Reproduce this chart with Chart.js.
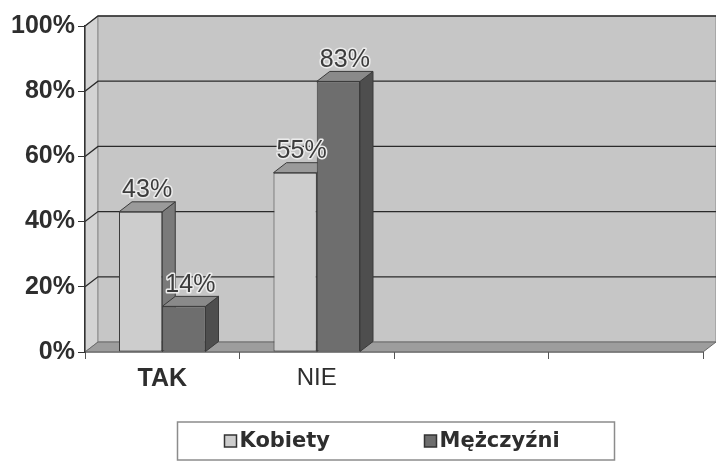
<!DOCTYPE html>
<html>
<head>
<meta charset="utf-8">
<script src="https://cdn.jsdelivr.net/npm/chart.js@4.4.1/dist/chart.umd.min.js"></script>
<style>
  html,body{margin:0;padding:0;background:#fff;}
  #wrap{width:716px;height:465px;}
</style>
</head>
<body>
<div id="wrap"><canvas id="c" width="716" height="465"></canvas></div>
<script>
/* ---- data ---- */
const categories = ['TAK', 'NIE', '', ''];
const kobiety    = [43, 55, null, null];
const mezczyzni  = [14, 83, null, null];
const yTicks     = [0, 20, 40, 60, 80, 100];
const seriesNames = ['Kobiety', 'Mężczyźni'];

const DX = 13, DY = 10;            // fake 3D depth
const FONT = '"Liberation Sans", Arial, sans-serif';
const COL = {
  wall:'#c6c6c6', side:'#d3d3d3', floor:'#9d9d9d', grid:'#2a2a2a',
  kFront:'#cdcdcd', kTop:'#9a9a9a', kSide:'#7a7a7a',
  mFront:'#6e6e6e', mTop:'#8a8a8a', mSide:'#4e4e4e', edge:'#3a3a3a'
};

function poly(ctx, pts, fill, stroke){
  ctx.beginPath(); ctx.moveTo(pts[0][0], pts[0][1]);
  for (let i=1;i<pts.length;i++) ctx.lineTo(pts[i][0], pts[i][1]);
  ctx.closePath();
  if (fill){ ctx.fillStyle = fill; ctx.fill(); }
  if (stroke){ ctx.strokeStyle = stroke; ctx.lineWidth = 1; ctx.stroke(); }
}

// walls, floor and back-wall gridlines
const walls = {
  id:'walls',
  beforeDraw(chart){
    const {ctx, chartArea:{left,right,top,bottom}} = chart, ys = chart.scales.y;
    ctx.save();
    poly(ctx, [[left,top],[left+DX,top-DY],[left+DX,bottom-DY],[left,bottom]], COL.side, '#8a8a8a');
    poly(ctx, [[left+DX,top-DY],[right+DX,top-DY],[right+DX,bottom-DY],[left+DX,bottom-DY]], COL.wall, '#8a8a8a');
    poly(ctx, [[left,bottom],[left+DX,bottom-DY],[right+DX,bottom-DY],[right,bottom]], COL.floor, '#6a6a6a');
    ctx.strokeStyle = COL.grid; ctx.lineWidth = 1.3;
    yTicks.forEach(v => {
      if (v === 0) return;
      const y = ys.getPixelForValue(v);
      ctx.beginPath(); ctx.moveTo(left, y); ctx.lineTo(left+DX, y-DY); ctx.lineTo(right+DX, y-DY); ctx.stroke();
    });
    ctx.strokeStyle = '#777'; ctx.lineWidth = 1.5;
    ctx.beginPath(); ctx.moveTo(left, bottom); ctx.lineTo(right, bottom); ctx.stroke();
    ctx.restore();
  },
  beforeDatasetsDraw(chart){
    const ctx = chart.ctx;
    ctx.save();
    chart.data.datasets.forEach((ds, di) => {
      const top = di ? COL.mTop : COL.kTop, side = di ? COL.mSide : COL.kSide;
      chart.getDatasetMeta(di).data.forEach((bar, i) => {
        if (ds.data[i] == null) return;
        const {x, y, base, width} = bar.getProps(['x','y','base','width']);
        const l = x - width/2, r = x + width/2;
        poly(ctx, [[r,y],[r+DX,y-DY],[r+DX,base-DY],[r,base]], side, COL.edge);
        poly(ctx, [[l,y],[l+DX,y-DY],[r+DX,y-DY],[r,y]], top, COL.edge);
      });
    });
    ctx.restore();
  },
  afterDatasetsDraw(chart){
    const ctx = chart.ctx;
    ctx.save();
    ctx.font = '25px ' + FONT; ctx.textAlign = 'center'; ctx.textBaseline = 'bottom';
    ctx.lineJoin = 'round';
    chart.data.datasets.forEach((ds, di) => {
      chart.getDatasetMeta(di).data.forEach((bar, i) => {
        const v = ds.data[i]; if (v == null) return;
        const tx = bar.x + DX/2, ty = bar.y - DY + 1;
        ctx.strokeStyle = '#ececec'; ctx.lineWidth = 3; ctx.strokeText(v + '%', tx, ty);
        ctx.fillStyle = '#3c3c3c'; ctx.fillText(v + '%', tx, ty);
      });
    });
    ctx.restore();
  }
};

// boxed legend under the axis
const boxLegend = {
  id:'boxLegend',
  afterDraw(chart){
    const {ctx, chartArea:{left,right,bottom}} = chart;
    const w = 437, h = 38, bx = (left+right)/2 - w/2 + 2, by = bottom + 70;
    ctx.save();
    ctx.fillStyle = '#fff'; ctx.fillRect(bx, by, w, h);
    ctx.strokeStyle = '#8c8c8c'; ctx.lineWidth = 1.5; ctx.strokeRect(bx, by, w, h);
    ctx.font = 'bold 21px "DejaVu Sans", sans-serif'; ctx.textBaseline = 'middle'; ctx.textAlign = 'left';
    const offs = [47, 247];
    chart.data.datasets.forEach((ds, di) => {
      const sx = bx + offs[di], sy = by + h/2 - 6;
      ctx.fillStyle = ds.backgroundColor; ctx.fillRect(sx, sy, 12, 12);
      ctx.strokeStyle = '#333'; ctx.lineWidth = 1.5; ctx.strokeRect(sx, sy, 12, 12);
      ctx.fillStyle = '#2e2e2e'; ctx.fillText(ds.label, sx + 15, by + h/2 + 1);
    });
    ctx.restore();
  }
};

new Chart(document.getElementById('c'), {
  type:'bar',
  data:{
    labels:categories,
    datasets:[
      {label:seriesNames[0], data:kobiety,   backgroundColor:COL.kFront, borderColor:COL.edge, borderWidth:1, borderSkipped:false},
      {label:seriesNames[1], data:mezczyzni, backgroundColor:COL.mFront, borderColor:COL.edge, borderWidth:1, borderSkipped:false}
    ]
  },
  options:{
    responsive:false, animation:false, devicePixelRatio:1,
    layout:{padding:{top:26, right:13, left:0, bottom:73}},
    categoryPercentage:0.56, barPercentage:1,
    plugins:{legend:{display:false}, tooltip:{enabled:false}},
    scales:{
      x:{
        afterFit:s => { s.height = 40; },
        grid:{display:true, drawOnChartArea:false, drawTicks:true, tickLength:7, offset:true, color:'#555'},
        border:{display:false},
        ticks:{padding:5, color:'#2e2e2e',
          font:c => ({family:FONT, size:c.index === 0 ? 25 : 24, weight:c.index === 0 ? 'bold' : 'normal'})}
      },
      y:{
        min:0, max:100,
        afterFit:s => { s.width = 85; },
        afterBuildTicks:s => { s.ticks = yTicks.map(v => ({value:v})); },
        grid:{drawOnChartArea:false, drawTicks:true, tickLength:7, color:'#333'},
        border:{display:true, color:'#333', width:1.5},
        ticks:{padding:3, color:'#2e2e2e', font:{family:FONT, size:25, weight:'bold'}, callback:v => v + '%'}
      }
    }
  },
  plugins:[walls, boxLegend]
});
</script>
</body>
</html>
